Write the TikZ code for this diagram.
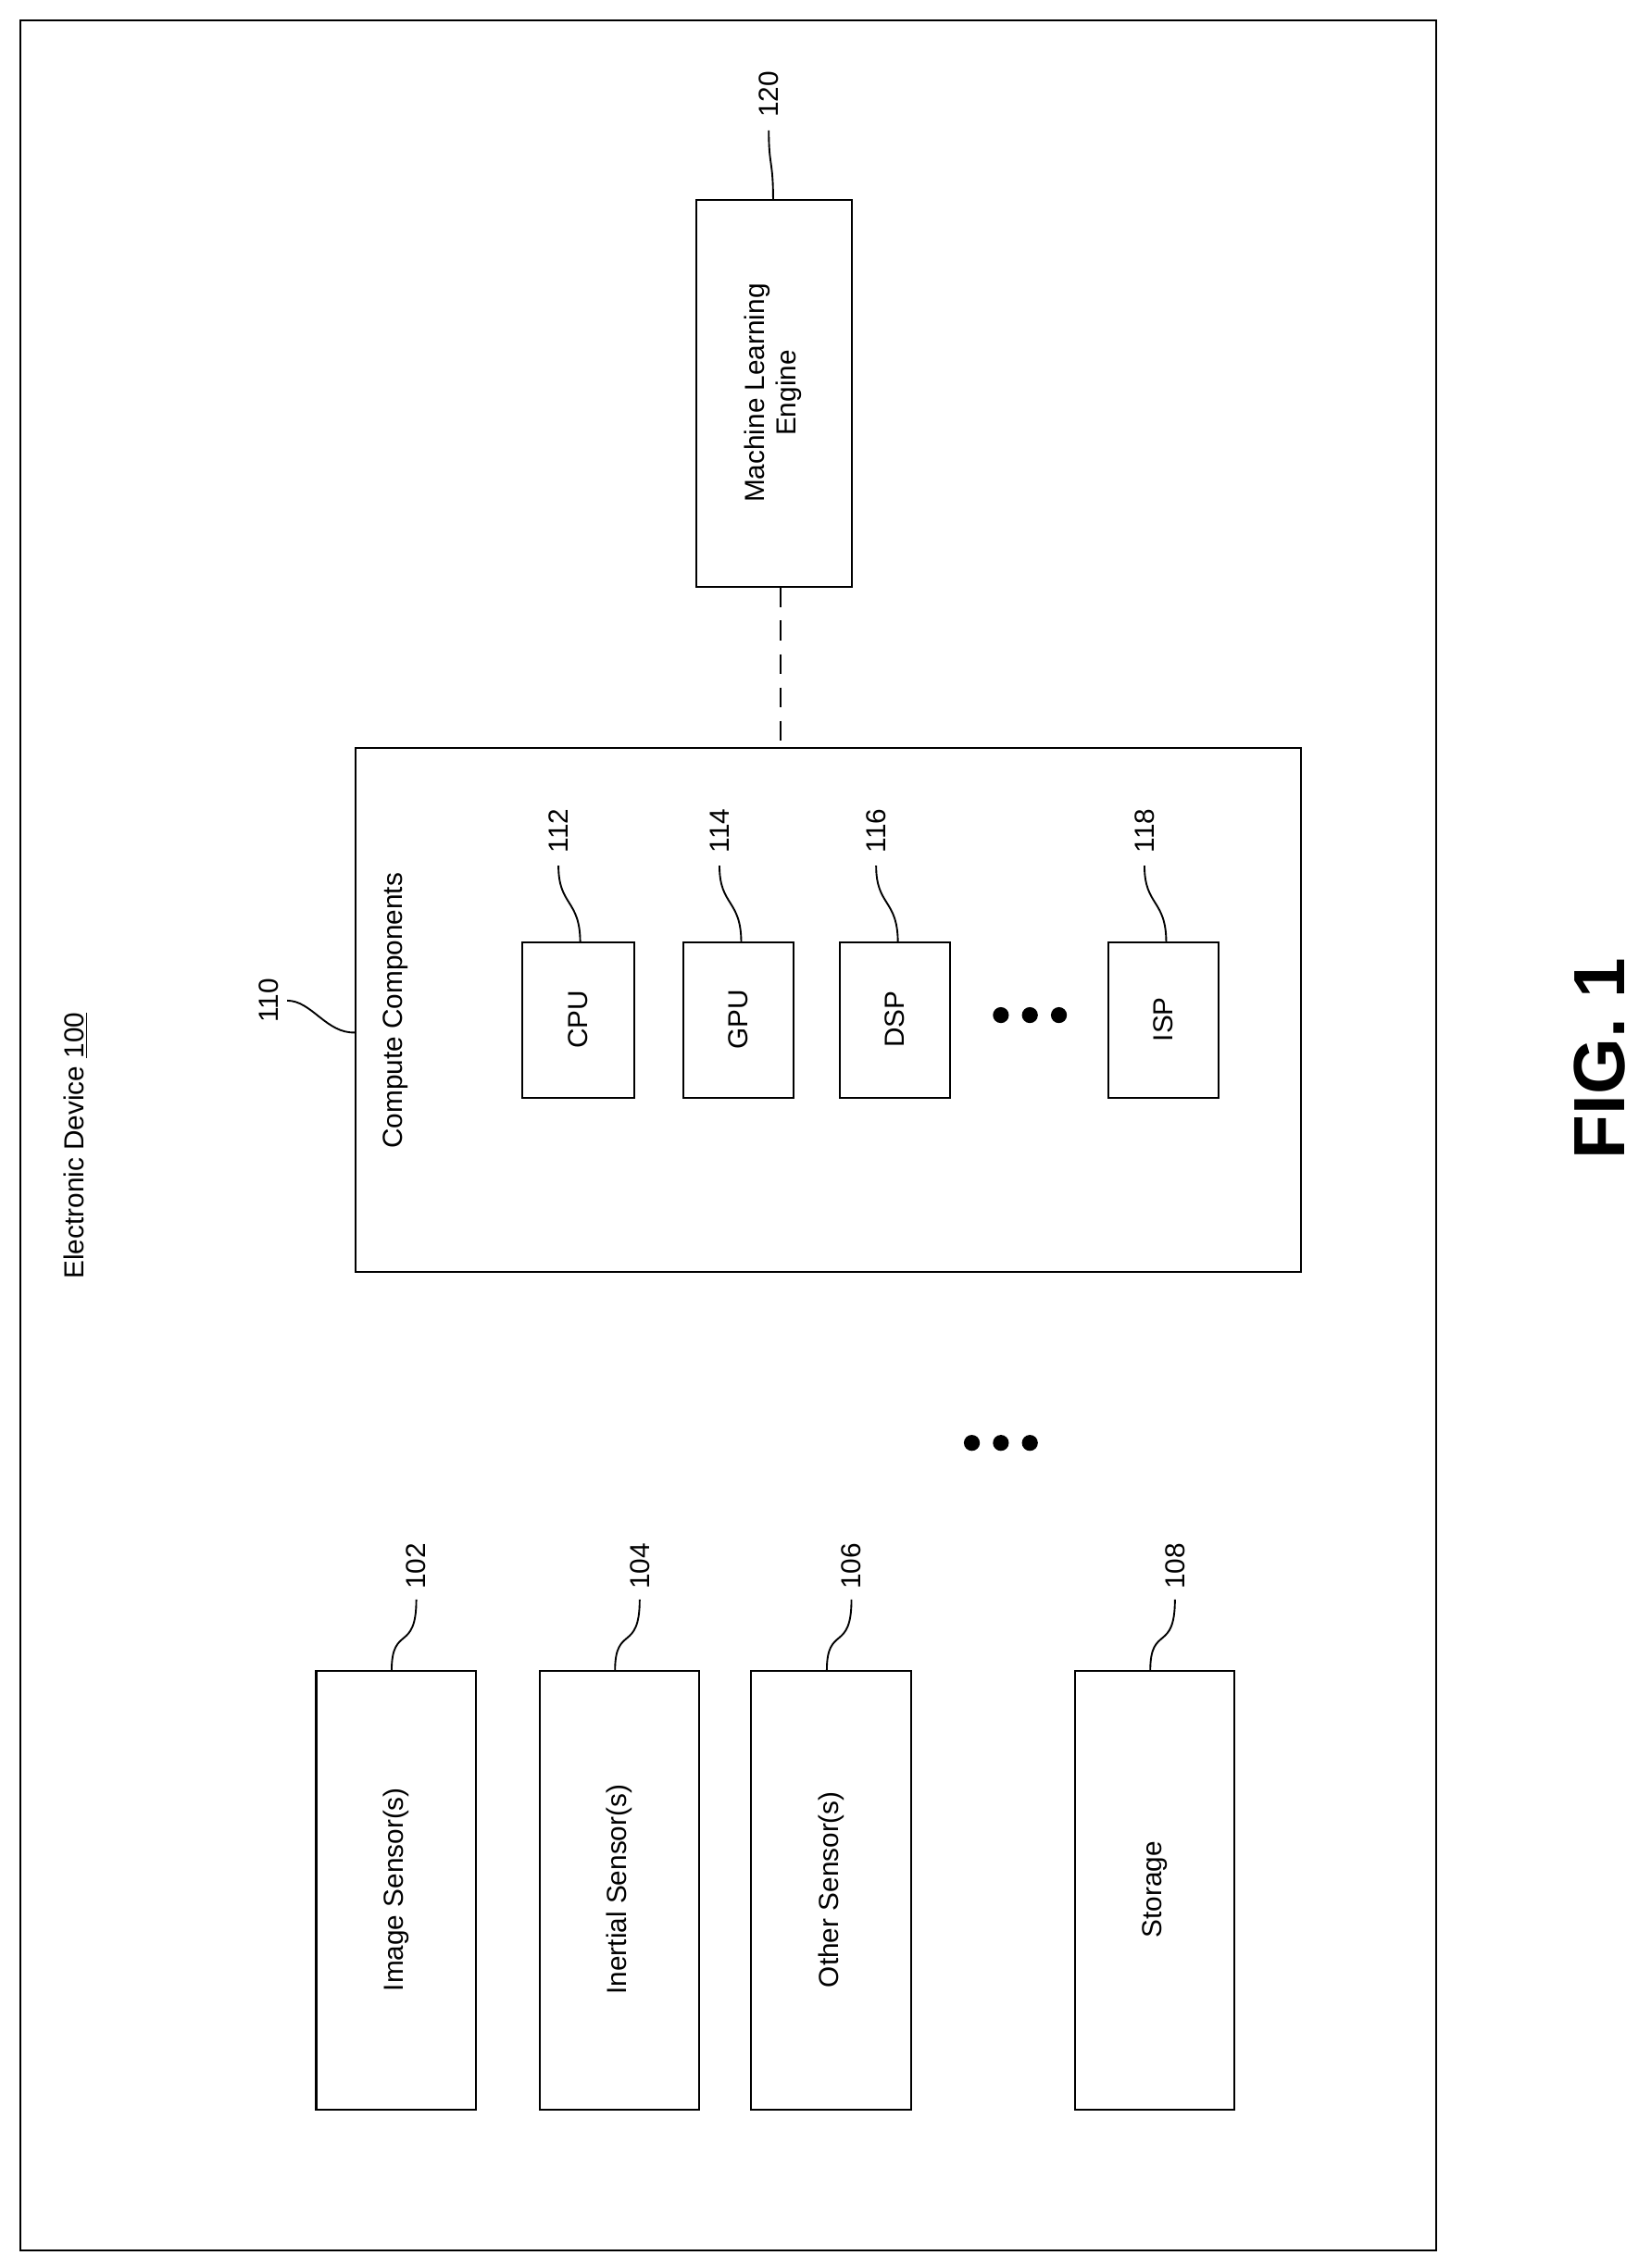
\documentclass[tikz,border=0pt]{standalone}
\usepackage{fontspec}
\setmainfont{Liberation Sans}
\begin{document}
\begin{tikzpicture}[x=1pt,y=-1pt,
  box/.style={draw,line width=1.3pt},
  t/.style={rotate=90,font=\fontsize{19}{22}\selectfont,align=center},
  lab/.style={rotate=90,font=\fontsize{19}{22}\selectfont},
  sq/.style={line width=1.2pt}]
\useasboundingbox (0,0) rectangle (1138,1564);
\draw[box] (14,14) rectangle (990,1552);
\node[t] (ed) at (52,790) {Electronic Device \underline{100}};
% sensors
\draw[box] (218,1152) rectangle (328,1455); \node[t] (is) at (273,1303) {Image Sensor(s)};
\draw[box] (372,1152) rectangle (482,1455); \node[t] (ins) at (427,1303) {Inertial Sensor(s)};
\draw[box] (518,1152) rectangle (628,1455); \node[t] (os) at (573,1303) {Other Sensor(s)};
\draw[box] (741,1152) rectangle (851,1455); \node[t] (st) at (796,1303) {Storage};
\foreach \x in {670,690,710} \fill (\x,995) circle (5.5);
\foreach \x/\n in {270/102,424/104,570/106,793/108}{
  \node[lab] (l\n) at (\x+17,1080) {\n};
  \draw[sq] (\x,1152) .. controls (\x,1120) and (\x+17,1140) .. (\x+17,1103);
}
% compute
\draw[box] (245,516) rectangle (897,877);
\node[t] (cc) at (273,697) {Compute Components};
\node[lab] (l110) at (185,690) {110};
\draw[sq] (198,690) .. controls (215,690) and (225,713) .. (245,712);
\foreach \a/\b/\n/\m in {360/437/CPU/112,471/547/GPU/114,579/655/DSP/116,764/840/ISP/118}{
  \draw[box] (\a,650) rectangle (\b,757);
  \node[t] at ({(\a+\b)/2},703) {\n};
  \node[lab] at ({\a+25},573) {\m};
  \draw[sq] ({\a+40},650) .. controls ({\a+40},620) and ({\a+25},625) .. ({\a+25},597);
}
\foreach \x in {690,710,730} \fill (\x,700) circle (5.5);
% ML
\draw[box] (480,138) rectangle (587,405);
\node[t] (ml) at (533,271) {Machine Learning\\Engine};
\node[lab] (l120) at (530,65) {120};
\draw[sq] (533,138) .. controls (533,110) and (530,115) .. (530,90);
\draw[line width=1.3pt,dash pattern=on 14pt off 9pt] (538,405) -- (538,516);
\node[rotate=90,font=\fontsize{50}{56}\selectfont\bfseries] at (1103,730) {FIG. 1};
\end{tikzpicture}
\end{document}
